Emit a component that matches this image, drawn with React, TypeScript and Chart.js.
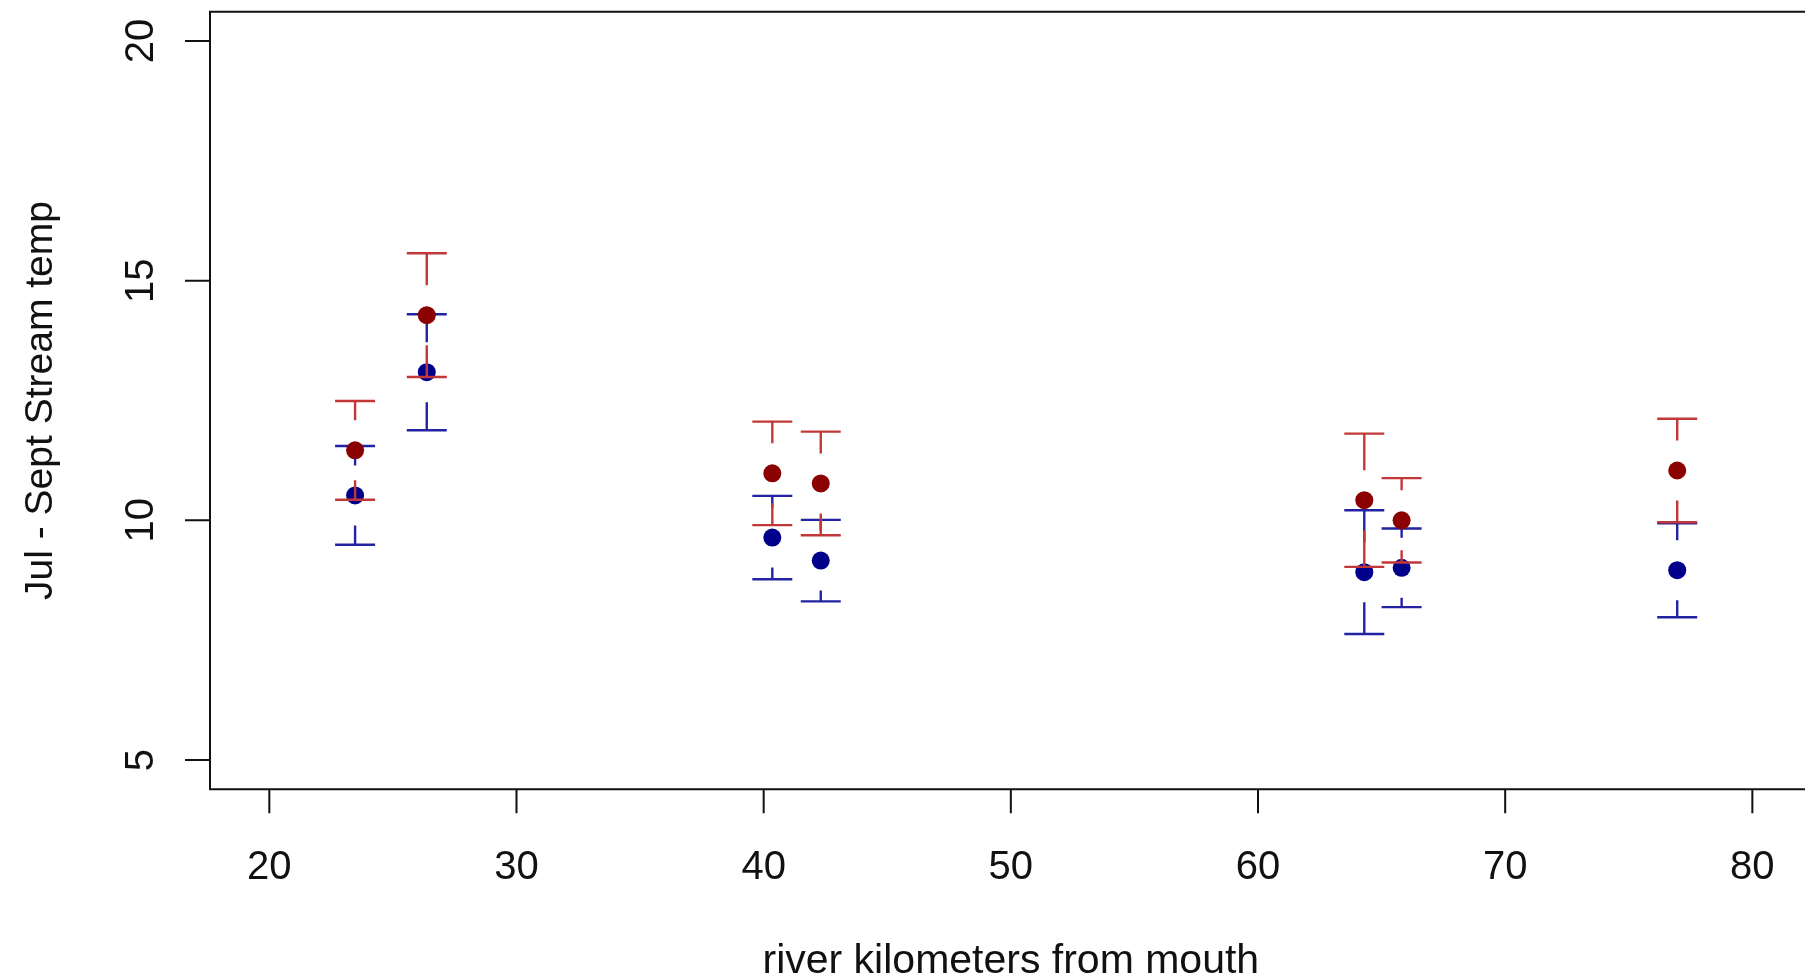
import React, { useEffect, useRef } from "react";
import { Chart, registerables } from "chart.js";

Chart.register(...registerables);

// ---- data ----
const riverKm = [23.47, 26.37, 40.35, 42.31, 64.3, 65.81, 76.96];
const redMean = [11.46, 14.28, 10.98, 10.77, 10.42, 10.0, 11.04];
const redSE = [1.03, 1.29, 1.08, 1.08, 1.39, 0.88, 1.08];
const blueMean = [10.52, 13.09, 9.64, 9.16, 8.92, 9.01, 8.96];
const blueSE = [1.03, 1.21, 0.87, 0.85, 1.29, 0.82, 0.98];

const xTicks = [20, 30, 40, 50, 60, 70, 80];
const yTicks = [5, 10, 15, 20];
const xTitle = "river kilometers from mouth";
const yTitle = "Jul - Sept Stream temp";

const FAMILY = '"Liberation Sans", Arial, sans-serif';
const AXIS_COLOR = "#111111";

const errorSets = [
  { mean: redMean, se: redSE, color: "#c23838" },
  { mean: blueMean, se: blueSE, color: "#2222a2" },
];

const errorBarPlugin = {
  id: "errorBars",
  beforeDatasetDraw(chart: any, args: any) {
    const set = errorSets[args.index];
    if (!set) return;
    const { ctx, scales } = chart;
    const xs = scales.x;
    const ys = scales.y;
    const gap = 30;
    const half = 20;
    ctx.save();
    ctx.strokeStyle = set.color;
    ctx.lineWidth = 2.4;
    ctx.lineCap = "butt";
    for (let i = 0; i < riverKm.length; i++) {
      const px = xs.getPixelForValue(riverKm[i]);
      const pc = ys.getPixelForValue(set.mean[i]);
      const pu = ys.getPixelForValue(set.mean[i] + set.se[i]);
      const pl = ys.getPixelForValue(set.mean[i] - set.se[i]);
      ctx.beginPath();
      if (pc - gap > pu) {
        ctx.moveTo(px, pu);
        ctx.lineTo(px, pc - gap);
      }
      if (pc + gap < pl) {
        ctx.moveTo(px, pc + gap);
        ctx.lineTo(px, pl);
      }
      ctx.moveTo(px - half, pu);
      ctx.lineTo(px + half, pu);
      ctx.moveTo(px - half, pl);
      ctx.lineTo(px + half, pl);
      ctx.stroke();
    }
    ctx.restore();
  },
};

const rAxesPlugin = {
  id: "rAxes",
  afterDraw(chart: any) {
    const { ctx, chartArea: a, scales } = chart;
    const xs = scales.x;
    const ys = scales.y;
    ctx.save();
    ctx.strokeStyle = AXIS_COLOR;
    ctx.lineWidth = 2;
    // plot box (right side lies beyond the canvas)
    ctx.beginPath();
    ctx.moveTo(chart.width + 5, a.top);
    ctx.lineTo(a.left, a.top);
    ctx.lineTo(a.left, a.bottom);
    ctx.lineTo(chart.width + 5, a.bottom);
    ctx.stroke();

    // x ticks
    ctx.beginPath();
    for (const t of xTicks) {
      const px = xs.getPixelForValue(t);
      ctx.moveTo(px, a.bottom);
      ctx.lineTo(px, a.bottom + 24);
    }
    // y ticks
    for (const t of yTicks) {
      const py = ys.getPixelForValue(t);
      ctx.moveTo(a.left - 25, py);
      ctx.lineTo(a.left, py);
    }
    ctx.stroke();

    ctx.fillStyle = AXIS_COLOR;
    ctx.textBaseline = "alphabetic";
    ctx.textAlign = "center";
    ctx.font = "40px " + FAMILY;
    for (const t of xTicks) {
      ctx.fillText(String(t), xs.getPixelForValue(t), a.bottom + 90);
    }
    // x title centered on plot region
    ctx.font = "41px " + FAMILY;
    ctx.fillText(xTitle, xs.getPixelForValue(50), a.bottom + 184);

    // y tick labels (rotated, parallel to axis)
    ctx.font = "40px " + FAMILY;
    for (const t of yTicks) {
      ctx.save();
      ctx.translate(a.left - 57, ys.getPixelForValue(t));
      ctx.rotate(-Math.PI / 2);
      ctx.fillText(String(t), 0, 0);
      ctx.restore();
    }
    // y title
    ctx.font = "39px " + FAMILY;
    ctx.save();
    ctx.translate(a.left - 158, (a.top + a.bottom) / 2);
    ctx.rotate(-Math.PI / 2);
    ctx.fillText(yTitle, 0, 0);
    ctx.restore();

    ctx.restore();
  },
};

export default function App() {
  const ref = useRef<HTMLCanvasElement | null>(null);

  useEffect(() => {
    const canvas = ref.current;
    if (!canvas) return;
    const chart = new Chart(canvas, {
      type: "scatter",
      data: {
        datasets: [
          {
            label: "red",
            data: riverKm.map((x, i) => ({ x, y: redMean[i] })),
            pointRadius: 9,
            pointHoverRadius: 9,
            pointBackgroundColor: "#8b0000",
            pointBorderWidth: 0,
            borderColor: "#8b0000",
            backgroundColor: "#8b0000",
          },
          {
            label: "blue",
            data: riverKm.map((x, i) => ({ x, y: blueMean[i] })),
            pointRadius: 9,
            pointHoverRadius: 9,
            pointBackgroundColor: "#00008b",
            pointBorderWidth: 0,
            borderColor: "#00008b",
            backgroundColor: "#00008b",
          },
        ],
      },
      options: {
        animation: false,
        responsive: false,
        devicePixelRatio: 1,
        layout: {
          autoPadding: false,
          padding: { left: 210, top: 11.7, right: 0, bottom: 190.7 },
        },
        plugins: {
          legend: { display: false },
          tooltip: { enabled: false },
        },
        events: [],
        scales: {
          x: { type: "linear", min: 17.6, max: 82.13, display: false },
          y: { type: "linear", min: 4.39, max: 20.61, display: false },
        },
      },
      plugins: [errorBarPlugin, rAxesPlugin],
    });
    return () => chart.destroy();
  }, []);

  return (
    <div
      style={{
        position: "fixed",
        left: 0,
        top: 0,
        width: 1805,
        height: 980,
        background: "#ffffff",
        overflow: "hidden",
      }}
    >
      <canvas ref={ref} width={1805} height={980} style={{ display: "block" }} />
    </div>
  );
}
